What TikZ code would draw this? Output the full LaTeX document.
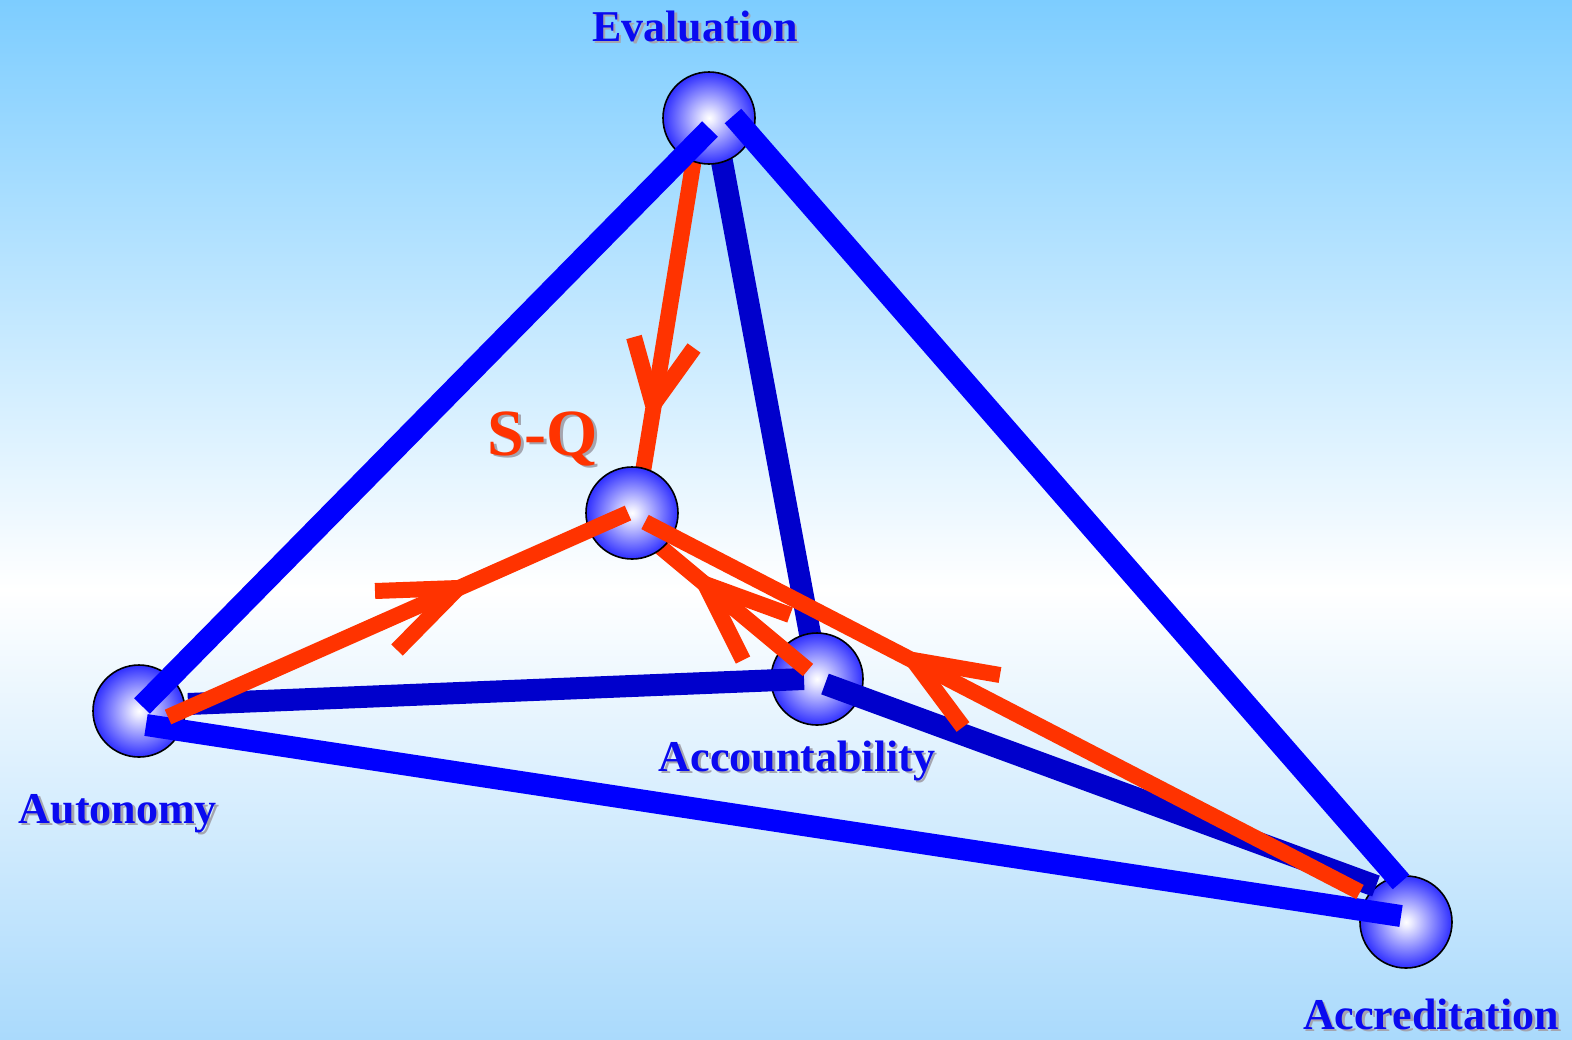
\documentclass[tikz,border=0pt]{standalone}
\usepackage{fontspec}
\setmainfont{Liberation Serif}
\usetikzlibrary{calc}
\definecolor{sky}{RGB}{125,205,255}
\definecolor{skyb}{RGB}{170,218,252}
\definecolor{sqred}{RGB}{255,51,0}
\definecolor{edgeblue}{RGB}{0,0,255}
\definecolor{backblue}{RGB}{0,0,204}
\definecolor{txtblue}{RGB}{10,10,240}
\definecolor{shadowgray}{RGB}{165,165,175}
\pgfdeclareradialshading{sphereshade}{\pgfpoint{0bp}{0bp}}{color(0bp)=(white); color(3bp)=(white!92!blue); color(14bp)=(blue!45!white); color(26bp)=(blue!85!white); color(35bp)=(blue!92!black); color(50bp)=(blue!92!black)}
\newcommand\shtxt[1]{\makebox[0pt][l]{\hspace{1.3pt}\raisebox{-1.3pt}{\textcolor{shadowgray}{#1}}}#1}
\begin{document}
\begin{tikzpicture}[x=0.5pt,y=-0.5pt,
  sphere/.style={circle,draw=black,line width=0.8pt,shade,shading=sphereshade,minimum size=46pt,inner sep=0pt},
  frontedge/.style={draw=edgeblue,line width=11pt},
  backedge/.style={draw=backblue,line width=11pt},
  redline/.style={draw=sqred,line width=8pt,line join=bevel},
  lbl/.style={anchor=base,text=txtblue,font=\fontsize{22pt}{26pt}\selectfont\bfseries,inner sep=0pt},
  sqlbl/.style={anchor=base,text=sqred,font=\fontsize{33pt}{38pt}\selectfont\bfseries,inner sep=0pt}]
\useasboundingbox (0,0) rectangle (1572,1039);
\shade[top color=sky,bottom color=white] (0,0) rectangle (1572,590);
\shade[top color=white,bottom color=skyb] (0,589) rectangle (1572,1039);

% line end points
\coordinate (eacA) at (717,135);  \coordinate (eacB) at (813,650);
\coordinate (rEa) at (697,140);   \coordinate (rEb) at (640,490);
\coordinate (apA) at (653,405);
\coordinate (eauA) at (710,129);  \coordinate (eauB) at (142,706);
\coordinate (earA) at (733,116);  \coordinate (earB) at (1401,882);
\coordinate (aacA) at (188,704);  \coordinate (aacB) at (804,679);
\coordinate (acrA) at (825,684);  \coordinate (acrB) at (1376,886);
\coordinate (aarA) at (146,725);  \coordinate (aarB) at (1401,916);
\coordinate (rCa) at (808,670);   \coordinate (rCb) at (640,530);
\coordinate (apC) at (705,584);
\coordinate (rAa) at (168,717);   \coordinate (rAb) at (628,513);
\coordinate (apB) at (458,588);
\coordinate (rRa) at (1360,892);  \coordinate (rRb) at (645,522);
\coordinate (apD) at (913,660);

% hidden (back) parts
\draw[backedge] (eacA) -- (eacB);
\draw[redline] (rEa) -- (rEb);
\draw[redline] (apA) ++(-19,-68) -- (apA) -- ++(41,-57);

% spheres
\node[sphere] (E) at (709,118) {};
\node[sphere] (Au) at (139,711) {};
\node[sphere] (Ac) at (817,679) {};
\node[sphere] (Ar) at (1406,922) {};

% front blue edges
\draw[backedge] (aacA) -- (aacB);
\draw[backedge] (acrA) -- (acrB);
\draw[frontedge] (aarA) -- (aarB);
\draw[frontedge] (eauA) -- (eauB);
\draw[frontedge] (earA) -- (earB);

% accountability -> S-Q
\draw[redline] (rCa) -- (rCb);
\draw[redline] (apC) ++(85,31) -- (apC) -- ++(38,76);

\node[sphere] (SQ) at (632,513) {};

% autonomy / accreditation -> S-Q
\draw[redline] (rAa) -- (rAb);
\draw[redline] (apB) ++(-83,3) -- (apB) -- ++(-61,62);
\draw[redline] (rRa) -- (rRb);
\draw[redline] (apD) ++(87,15) -- (apD) -- ++(50,67);

% labels
\node[lbl] (tE) at (695,41) {\shtxt{Evaluation}};
\node[sqlbl] (tSQ) at (543,455) {\shtxt{S-Q}};
\node[lbl] (tAu) at (118,823) {\shtxt{Autonomy}};
\node[lbl] (tAc) at (797,771) {\shtxt{Accountability}};
\node[lbl] (tAr) at (1431,1029) {\shtxt{Accreditation}};
\end{tikzpicture}
\end{document}
